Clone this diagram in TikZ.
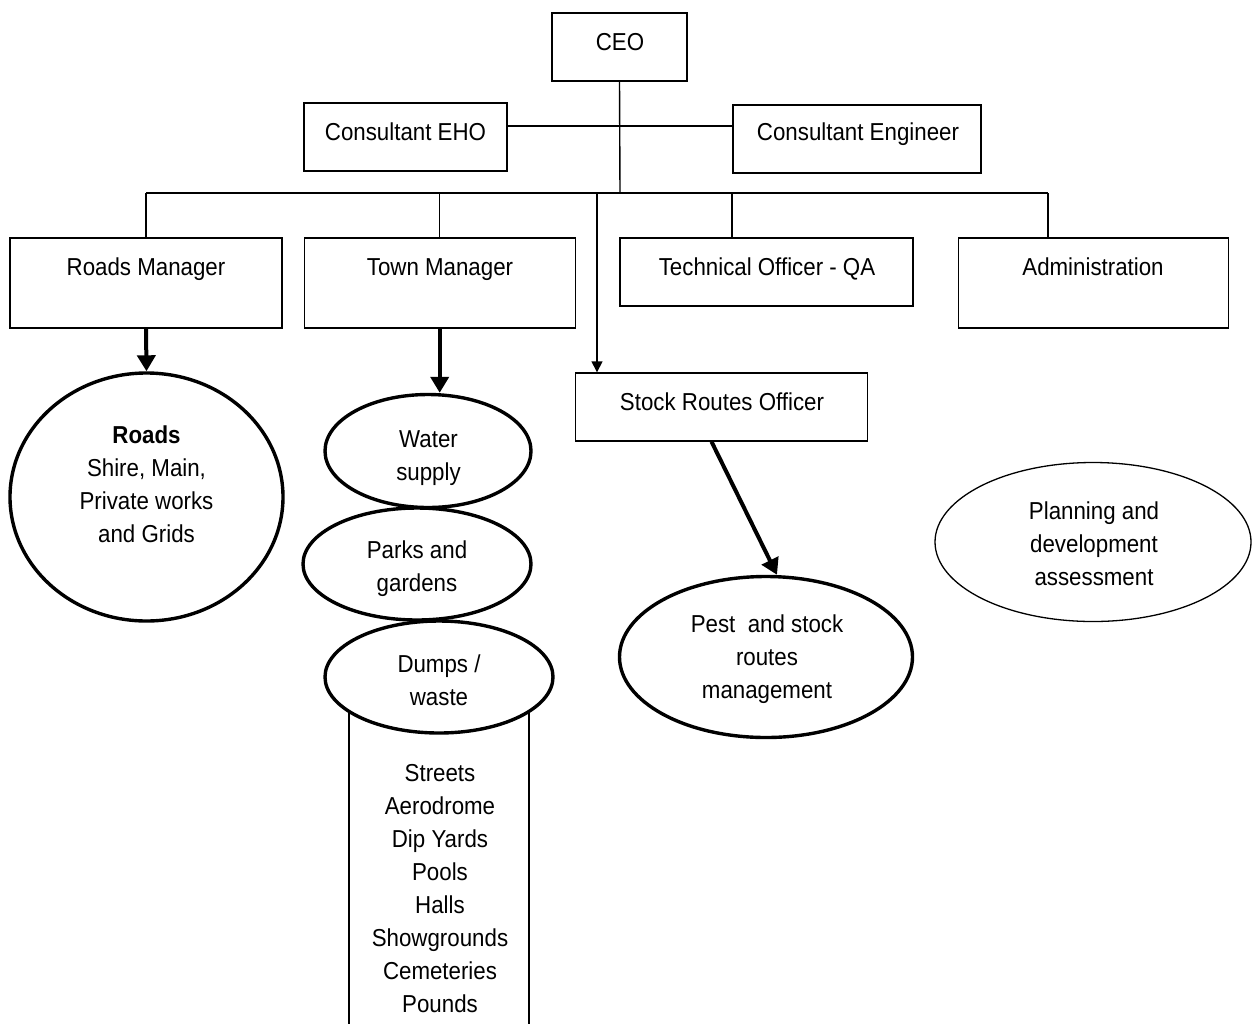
\documentclass[tikz,border=0pt]{standalone}
\usepackage{fontspec}
\setmainfont{Liberation Sans}[FakeStretch=0.91]
\usetikzlibrary{arrows.meta,shapes.geometric,calc}

\begin{document}
\begin{tikzpicture}[x=1pt,y=-1pt,
  box/.style={draw,line width=1.4pt,rectangle,inner sep=0pt,fill=white},
  lbl/.style={inner sep=0pt,align=center,anchor=base,font=\fontsize{24.5}{33}\selectfont},
  bold oval/.style={draw,ellipse,line width=3.4pt,fill=white,inner sep=0pt},
  thin oval/.style={draw,ellipse,line width=1.3pt,fill=white,inner sep=0pt},
  link/.style={line width=1.4pt},
  thinarrow/.style={line width=1.4pt,-{Triangle[length=11pt,width=11pt]}},
  thickarrow/.style={line width=4pt,-{Triangle[length=16pt,width=18pt]}}
]
\useasboundingbox (0,0) rectangle (1252,1023);
\fill[white] (0,0) rectangle (1252,1023);
\clip (0,0) rectangle (1252,1023);

% top level
\node[box,minimum width=135pt,minimum height=68pt] (ceo) at (619.5,47) {};
\node[lbl] (ceo-t) at (620,50) {CEO};
\node[box,minimum width=203pt,minimum height=68pt] (eho) at (405.5,137) {};
\node[lbl] (eho-t) at (405.5,140) {Consultant EHO};
\node[box,minimum width=248pt,minimum height=68pt] (eng) at (857,139) {};
\node[lbl] (eng-t) at (858,140) {Consultant Engineer};

% managers
\node[box,minimum width=272pt,minimum height=90pt] (rm) at (146,283) {};
\node[lbl] (rm-t) at (146,275) {Roads Manager};
\node[box,minimum width=271pt,minimum height=90pt] (tm) at (439.7,283) {};
\node[lbl] (tm-t) at (440,275) {Town Manager};
\node[box,minimum width=293pt,minimum height=68pt] (to) at (766.5,272) {};
\node[lbl] (to-t) at (767,275) {Technical Officer - QA};
\node[box,minimum width=270pt,minimum height=90pt] (adm) at (1093.3,283) {};
\node[lbl] (adm-t) at (1093,275) {Administration};
\node[box,minimum width=292pt,minimum height=68pt] (sro) at (721.5,407) {};
\node[lbl] (sro-t) at (722,410) {Stock Routes Officer};

% functions (multi-line labels are placed by the baseline of their last line)
\node[box,minimum width=180pt,minimum height=360pt] (list) at (439,880) {};
\node[lbl] (list-t) at (440,1012) {Streets\\Aerodrome\\Dip Yards\\Pools\\Halls\\Showgrounds\\Cemeteries\\Pounds};

\node[bold oval,minimum width=273pt,minimum height=248pt] (roads) at (146.5,497) {};
\node[lbl] (roads-t) at (146.5,542) {\textbf{Roads}\\Shire, Main,\\Private works\\and Grids};

\node[bold oval,minimum width=228pt,minimum height=112pt] (dumps) at (439,677) {};
\node[lbl] (dumps-t) at (439,705) {Dumps /\\waste};
\node[bold oval,minimum width=228pt,minimum height=112pt] (parks) at (417,564) {};
\node[lbl] (parks-t) at (417,591) {Parks and\\gardens};
\node[bold oval,minimum width=206pt,minimum height=113pt] (water) at (428,451) {};
\node[lbl] (water-t) at (428.5,480) {Water\\supply};

\node[bold oval,minimum width=293pt,minimum height=161pt] (pest) at (766,657) {};
\node[lbl] (pest-t) at (767,698) {Pest\ \ and stock\\routes\\management};

\node[thin oval,minimum width=316pt,minimum height=159pt] (plan) at (1093,542) {};
\node[lbl] (plan-t) at (1094,585) {Planning and\\development\\assessment};

% connectors
\coordinate (bus) at (620,193);
\coordinate (busL) at (146,193);
\coordinate (busR) at (1048,193);
\coordinate (dropSRO) at (597,193);
\coordinate (dropTO) at (732,193);
\coordinate (cline) at (620,126);

\draw[link] (ceo.south) -- (bus);
\draw[link] (eho.east |- cline) -- (eng.west |- cline);
\draw[link] (busL) -- (busR);
\draw[link] (busL) -- (rm.north);
\draw[link] (tm.north |- bus) -- (tm.north);
\draw[link] (dropTO) -- (dropTO |- to.north);
\draw[link] (busR) -- (busR |- adm.north);
\draw[thinarrow] (dropSRO) -- (dropSRO |- sro.north);

\draw[thickarrow] (rm.south) -- (roads.north);
\draw[thickarrow] (tm.south) -- (tm.south |- water.north);
\draw[thickarrow] ($(sro.south west)!0.466!(sro.south east)$) -- ($(pest.north)+(11,0)$);
\end{tikzpicture}
\end{document}
